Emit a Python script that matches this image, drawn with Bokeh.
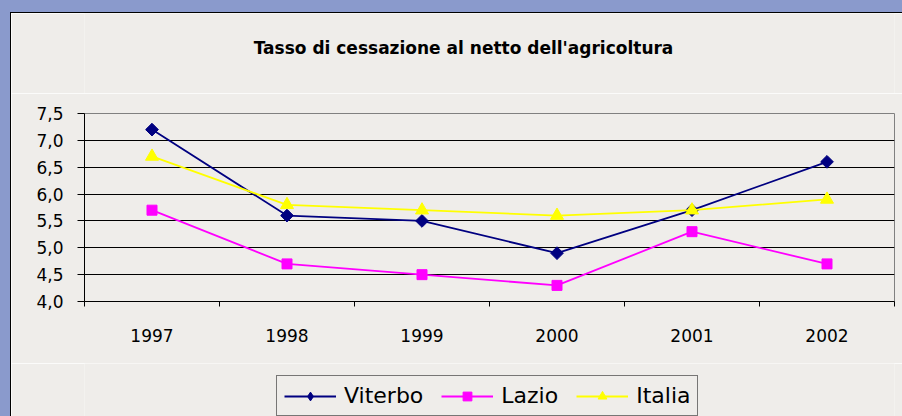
import numpy as np
from bokeh.plotting import figure
from bokeh.layouts import column
from bokeh.models import (Range1d, FixedTicker, CustomJSTickFormatter, Legend, LegendItem, Label)
from bokeh.embed import file_html
from bokeh.resources import INLINE

title = "Tasso di cessazione al netto dell'agricoltura"
years = ["1997", "1998", "1999", "2000", "2001", "2002"]
viterbo = [7.2, 5.6, 5.5, 4.9, 5.7, 6.6]
lazio = [5.7, 4.7, 4.5, 4.3, 5.3, 4.7]
italia = [6.7, 5.8, 5.7, 5.6, 5.7, 5.9]
y_ticks = [4.0, 4.5, 5.0, 5.5, 6.0, 6.5, 7.0, 7.5]

PANEL = "#efedea"
W = 891
x = list(np.arange(len(years)) + 0.5)


def blank(h):
    f = figure(width=W, height=h, output_backend="svg", toolbar_location=None,
               x_range=Range1d(-10, -9), y_range=Range1d(-10, -9),
               x_axis_location=None, y_axis_location=None, min_border=0)
    f.grid.visible = False
    f.outline_line_color = None
    f.background_fill_color = PANEL
    f.border_fill_color = PANEL
    return f


# title strip (its frame is aligned with the chart's frame by the column layout)
tp = blank(80)
tp.add_layout(Label(x=379, y=46, x_units="screen", y_units="screen", text=title,
                    text_align="center", text_baseline="middle", text_font="DejaVu Sans",
                    text_font_style="bold", text_font_size="17px", text_color="black"))

# main chart
p = figure(width=W, height=270, output_backend="svg", toolbar_location=None,
           x_range=Range1d(0, len(years)), y_range=Range1d(y_ticks[0], y_ticks[-1]),
           min_border_left=73, min_border_right=8, min_border_top=20, min_border_bottom=62)
p.background_fill_color = PANEL
p.border_fill_color = PANEL
p.outline_line_color = "#808080"
p.outline_line_width = 1

xa = p.xaxis[0]
xa.ticker = FixedTicker(ticks=x, minor_ticks=list(range(len(years) + 1)))
xa.major_label_overrides = {float(v): yr for v, yr in zip(x, years)}
xa.major_tick_line_color = None
xa.major_tick_out = 0
xa.major_tick_in = 0
xa.minor_tick_line_color = "black"
xa.minor_tick_out = 5
xa.minor_tick_in = 0
xa.axis_line_color = "black"
xa.major_label_text_font = "DejaVu Sans"
xa.major_label_text_font_size = "17px"
xa.major_label_text_color = "black"
xa.major_label_standoff = 22

ya = p.yaxis[0]
ya.ticker = FixedTicker(ticks=y_ticks)
ya.formatter = CustomJSTickFormatter(code="return tick.toFixed(1).replace('.', ',');")
ya.minor_tick_line_color = None
ya.major_tick_out = 7
ya.major_tick_in = 0
ya.axis_line_color = "black"
ya.major_tick_line_color = "black"
ya.major_label_text_font = "DejaVu Sans"
ya.major_label_text_font_size = "17px"
ya.major_label_text_color = "black"
ya.major_label_standoff = 14

p.xgrid.visible = False
p.ygrid.ticker = FixedTicker(ticks=y_ticks[1:-1])
p.ygrid.grid_line_color = "black"
p.ygrid.grid_line_width = 1

# legend strip (its copies of the series lie outside its visible ranges)
lp = blank(53)

# name, values, colour, chart marker, size, angle, legend marker, legend size
series = [("Viterbo", viterbo, "#000080", "square", 9, np.pi / 4, "diamond", 13),
          ("Lazio", lazio, "#ff00ff", "square", 10, 0.0, "square", 10),
          ("Italia", italia, "#ffff00", "triangle", 13, 0.0, "triangle", 13)]
items = []
for name, vals, col, mk, sz, ang, lmk, lsz in series:
    p.line(x, vals, line_color=col, line_width=1.8)
    p.scatter(x, vals, marker=mk, size=sz, angle=ang, fill_color=col, line_color=col)
    l = lp.line(x, vals, line_color=col, line_width=1.8)
    s = lp.scatter(x, vals, marker=lmk, size=lsz, fill_color=col, line_color=col)
    items.append(LegendItem(label=name, renderers=[l, s]))

leg = Legend(items=items, orientation="horizontal", location=(192, 0))
leg.label_text_font = "DejaVu Sans"
leg.label_text_font_size = "22px"
leg.label_text_color = "black"
leg.glyph_width = 52
leg.glyph_height = 22
leg.label_standoff = 8
leg.spacing = 18
leg.padding = 7
leg.margin = 0
leg.border_line_color = "black"
leg.border_line_width = 1
leg.background_fill_alpha = 0
lp.add_layout(leg, "center")

layout = column(tp, p, lp, spacing=0)
layout.styles = {"margin-left": "10px", "margin-top": "12px",
                 "border-left": "1px solid #000", "border-top": "1px solid #000",
                 "box-shadow": "0 0 0 14px #8a9acc"}

open("out.html", "w").write(file_html(layout, INLINE))
